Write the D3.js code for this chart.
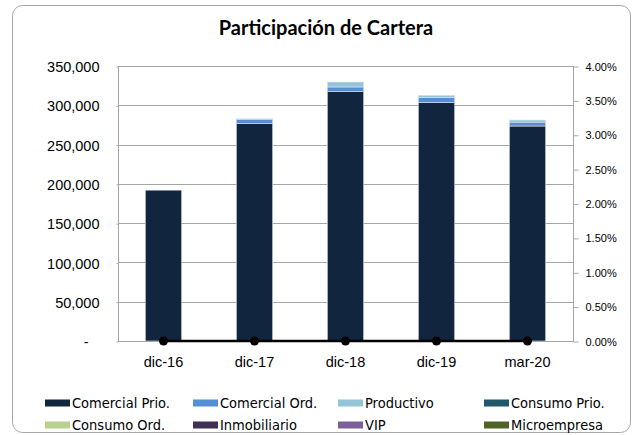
<!DOCTYPE html>
<html>
<head>
<meta charset="utf-8">
<script src="https://cdnjs.cloudflare.com/ajax/libs/d3/7.8.5/d3.min.js"></script>
<style>
  body { margin: 0; background: #fff; }
  svg { display: block; font-family: "DejaVu Sans Condensed", "DejaVu Sans", sans-serif; font-stretch: condensed; }
</style>
</head>
<body>
<svg id="chart"></svg>
<script>
// data
var periods = ["dic-16", "dic-17", "dic-18", "dic-19", "mar-20"];
var seriesNames = ["Comercial Prio.", "Comercial Ord.", "Productivo", "Consumo Prio.",
                   "Consumo Ord.", "Inmobiliario", "VIP", "Microempresa"];
var seriesColors = ["#12253f", "#558ed5", "#93c4d8", "#215868",
                    "#b9d08f", "#403152", "#7a5f9a", "#4f6228"];
var comercialPrio = [192000, 277000, 317300, 303300, 273600];
var comercialOrd  = [0, 5300, 6000, 6400, 5000];
var productivo    = [0, 400, 6300, 3000, 2600];
var consumoPrio   = [0, 0, 0, 0, 0];
var consumoOrd    = [0, 0, 0, 0, 0];
var inmobiliario  = [0, 0, 0, 0, 0];
var vip           = [0, 0, 0, 0, 0];
var microempresa  = [0, 0, 0, 0, 0];
var participacion = [0, 0, 0, 0, 0];   // right axis, %
var leftTicks = [0, 50000, 100000, 150000, 200000, 250000, 300000, 350000];
var rightTicks = [0, 0.005, 0.01, 0.015, 0.02, 0.025, 0.03, 0.035, 0.04];

var W = 633, H = 435;
var plot = {left: 118, right: 573, top: 66, bottom: 341};

var svg = d3.select("#chart").attr("width", W).attr("height", H);

// frame
svg.append("rect")
  .attr("x", 12.5).attr("y", 5.5).attr("width", 618).attr("height", 427)
  .attr("rx", 10).attr("fill", "#fff").attr("stroke", "#a6a6a6");

svg.append("text")
  .attr("x", 326).attr("y", 35)
  .attr("text-anchor", "middle")
  .attr("font-family", "Lato").attr("font-stretch", "normal")
  .attr("font-weight", "bold").attr("font-size", 20)
  .text("Participación de Cartera");

var x = d3.scaleBand().domain(periods).range([plot.left, plot.right]).paddingInner(0.6).paddingOuter(0.3);
var y = d3.scaleLinear().domain([0, 350000]).range([plot.bottom, plot.top]);
var y2 = d3.scaleLinear().domain([0, 0.04]).range([plot.bottom, plot.top]);

// gridlines
svg.append("g").selectAll("line").data(leftTicks.slice(1)).join("line")
  .attr("x1", plot.left).attr("x2", plot.right)
  .attr("y1", d => Math.round(y(d)) + 0.5).attr("y2", d => Math.round(y(d)) + 0.5)
  .attr("stroke", "#a6a6a6");

// stacked bars
var table = periods.map((p, i) => ({
  period: p,
  "Comercial Prio.": comercialPrio[i], "Comercial Ord.": comercialOrd[i],
  "Productivo": productivo[i], "Consumo Prio.": consumoPrio[i],
  "Consumo Ord.": consumoOrd[i], "Inmobiliario": inmobiliario[i],
  "VIP": vip[i], "Microempresa": microempresa[i]
}));
var stacked = d3.stack().keys(seriesNames)(table);
var color = d3.scaleOrdinal().domain(seriesNames).range(seriesColors);

svg.append("g").selectAll("g").data(stacked).join("g")
  .attr("fill", d => color(d.key))
  .selectAll("rect").data(d => d.filter(s => s[1] > s[0])).join("rect")
  .attr("x", d => x(d.data.period))
  .attr("width", x.bandwidth())
  .attr("y", d => y(d[1]))
  .attr("height", d => y(d[0]) - y(d[1]))
  .attr("stroke", "#dbe4ee").attr("stroke-width", 0.6);

// plot border
svg.append("rect")
  .attr("x", plot.left + 0.5).attr("y", plot.top + 0.5)
  .attr("width", plot.right - plot.left).attr("height", plot.bottom - plot.top)
  .attr("fill", "none").attr("stroke", "#a6a6a6");

// left axis
var fmt = d3.format(",");
var gl = svg.append("g").attr("transform", `translate(${plot.left + 0.5},0.5)`)
  .call(d3.axisLeft(y).tickValues(leftTicks).tickSize(2).tickPadding(17)
    .tickFormat(d => d === 0 ? "-" : fmt(d)));
gl.select(".domain").remove();
gl.selectAll("line").attr("stroke", "#a6a6a6");
gl.selectAll("text").attr("font-size", 14.5).attr("fill", "#000")
  .attr("font-family", null).attr("dy", "0.35em")
  .attr("dx", d => d === 0 ? -11 : 0);

// right axis
var gr = svg.append("g").attr("transform", `translate(${plot.right + 0.5},0.5)`)
  .call(d3.axisRight(y2).tickValues(rightTicks).tickSize(5).tickPadding(7)
    .tickFormat(d3.format(".2%")));
gr.select(".domain").remove();
gr.selectAll("line").attr("stroke", "#a6a6a6");
gr.selectAll("text").attr("font-size", 11).attr("fill", "#000")
  .attr("font-family", null);

// bottom axis labels
var gb = svg.append("g").attr("transform", `translate(0,${plot.bottom})`)
  .call(d3.axisBottom(x).tickSize(0).tickPadding(0));
gb.select(".domain").remove();
gb.selectAll("text").attr("font-size", 14.5).attr("fill", "#000")
  .attr("font-family", null).attr("y", 26).attr("dy", 0);

// percentage line
var line = d3.line().x((d, i) => x(periods[i]) + x.bandwidth() / 2).y(d => y2(d));
svg.append("path").datum(participacion)
  .attr("d", line).attr("fill", "none").attr("stroke", "#000").attr("stroke-width", 2.5);
svg.append("g").selectAll("circle").data(participacion).join("circle")
  .attr("cx", (d, i) => x(periods[i]) + x.bandwidth() / 2)
  .attr("cy", d => y2(d))
  .attr("r", 4.5).attr("fill", "#000");

// legend
var legendX = [45, 193, 338, 484];
var legendY = [403, 425];
var lg = svg.append("g").selectAll("g").data(seriesNames).join("g")
  .attr("transform", (d, i) => `translate(${legendX[i % 4]},${legendY[Math.floor(i / 4)]})`);
lg.append("rect").attr("x", 0).attr("y", -3.5).attr("width", 25).attr("height", 7)
  .attr("fill", d => color(d));
lg.append("text").attr("x", 27).attr("y", 0).attr("dy", "0.36em")
  .attr("font-size", 14.5).text(d => d);
</script>
</body>
</html>
